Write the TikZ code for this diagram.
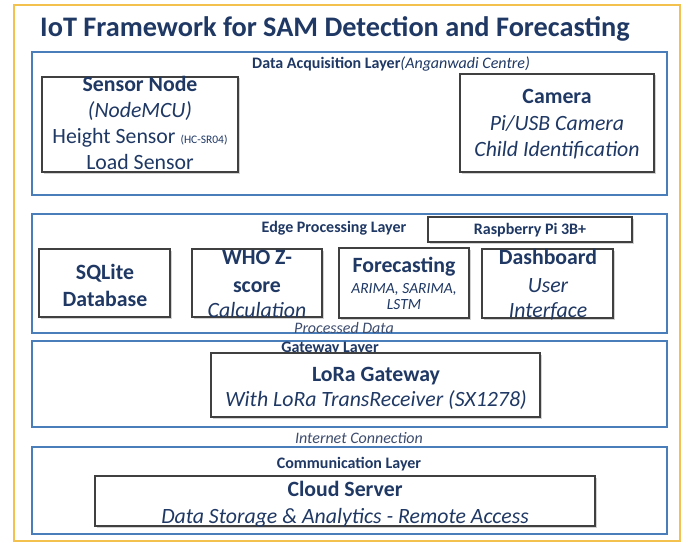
\documentclass[tikz,border=0pt]{standalone}
\usepackage{fontspec}
\setmainfont{Carlito}
\usetikzlibrary{shadows,fit}
\definecolor{navy}{HTML}{1F3864}
\definecolor{softnavy}{HTML}{3E4D6E}
\definecolor{layerblue}{HTML}{4A7EBB}
\definecolor{gold}{HTML}{F2C14E}
\definecolor{boxgray}{HTML}{404040}
\begin{document}
\begin{tikzpicture}[x=1pt,y=-1pt,
  frame/.style={draw=gold, line width=2.5pt, inner sep=0pt},
  layer/.style={draw=layerblue, line width=1.8pt, fill=white, inner sep=0pt,
    drop shadow={shadow xshift=1pt, shadow yshift=-1.2pt, opacity=0.25}},
  box/.style={draw=boxgray, line width=1.3pt, fill=white, inner sep=0pt,
    drop shadow={shadow xshift=1.5pt, shadow yshift=-1.5pt, opacity=0.35}},
  t/.style={text=navy, inner sep=0pt, anchor=base},
  big/.style={t, font=\fontsize{21.8}{26}\selectfont\bfseries},
  bigit/.style={t, font=\fontsize{21.8}{26}\selectfont\itshape},
  bigrm/.style={t, font=\fontsize{21.8}{26}\selectfont},
  small/.style={t, font=\fontsize{16}{19}\selectfont\bfseries},
  smallit/.style={t, text=softnavy, font=\fontsize{16}{19}\selectfont\itshape},
]
\useasboundingbox (0,0) rectangle (688,543);
\fill[white] (0,0) rectangle (688,543);

% outer frame
\node[frame, fit={(14,5) (680,541)}] (outer) {};
\node[t, font=\fontsize{28.3}{32}\selectfont\bfseries] (title) at (335,37) {IoT Framework for SAM Detection and Forecasting};

% layers
\node[layer, fit={(32,52) (667,195)}] (acq) {};
\node[layer, fit={(32,214) (667,333)}] (edge) {};
\node[layer, fit={(32,341) (667,427)}] (gw) {};
\node[layer, fit={(32,447) (667,534)}] (comm) {};

% data acquisition layer
\node[t, anchor=base west, font=\fontsize{16}{19}\selectfont] (acqlbl) at (252,68)
  {\bfseries Data Acquisition Layer\mdseries\itshape(Anganwadi Centre)};
\node[box, fit={(42,77) (238,172)}] (sensor) {};
\node[box, fit={(460,74) (654,172)}] (camera) {};
\node[big] (s1) at (140,92) {Sensor Node};
\node[bigit] (s2) at (140,117) {(NodeMCU)};
\node[bigrm] (s3) at (140,143) {Height Sensor {\fontsize{11.5}{13}\selectfont (HC-SR04)}};
\node[bigrm] (s4) at (140,169) {Load Sensor};
\node[big] (c1) at (557,103) {Camera};
\node[bigit] (c2) at (557,130) {Pi/USB Camera};
\node[bigit] (c3) at (557,156) {Child Identification};

% edge processing layer
\node[small] (edgelbl) at (334,232) {Edge Processing Layer};
\node[box, fit={(428,217) (632,242)}] (rpi) {};
\node[small] (rpilbl) at (530,234) {Raspberry Pi 3B+};
\node[box, fit={(39,249) (170,317)}] (sqlite) {};
\node[box, fit={(192,249) (322,317)}] (who) {};
\node[box, fit={(339,248) (469,318)}] (fore) {};
\node[box, fit={(482,249) (613,318)}] (dash) {};
\node[big] (q1) at (105,279) {SQLite};
\node[big] (q2) at (105,306) {Database};
\node[big] (w1) at (257,264) {WHO Z-};
\node[big] (w2) at (257,292) {score};
\node[bigit] (w3) at (257,317) {Calculation};
\node[big] (f1) at (404,272) {Forecasting};
\node[t, font=\fontsize{15.5}{18}\selectfont\itshape] (f2) at (404,293) {ARIMA, SARIMA,};
\node[t, font=\fontsize{15.5}{18}\selectfont\itshape] (f3) at (404,309) {LSTM};
\node[big] (d1) at (548,264) {Dashboard};
\node[bigit] (d2) at (548,292) {User};
\node[bigit] (d3) at (548,317) {Interface};
\node[smallit] (proc) at (344,333) {Processed Data};

% gateway layer
\node[small] (gwlbl) at (330,352) {Gateway Layer};
\node[box, fit={(211,353) (540,417)}] (lora) {};
\node[big] (l1) at (376,381) {LoRa Gateway};
\node[bigit] (l2) at (376,406) {With LoRa TransReceiver (SX1278)};

\node[smallit] (inet) at (359,443) {Internet Connection};

% communication layer
\node[small] (commlbl) at (349,468) {Communication Layer};
\node[box, fit={(95,476) (595,526)}] (cloud) {};
\node[big] (k1) at (345,496) {Cloud Server};
\node[bigit] (k2) at (345,523) {Data Storage \& Analytics - Remote Access};
\end{tikzpicture}
\end{document}
